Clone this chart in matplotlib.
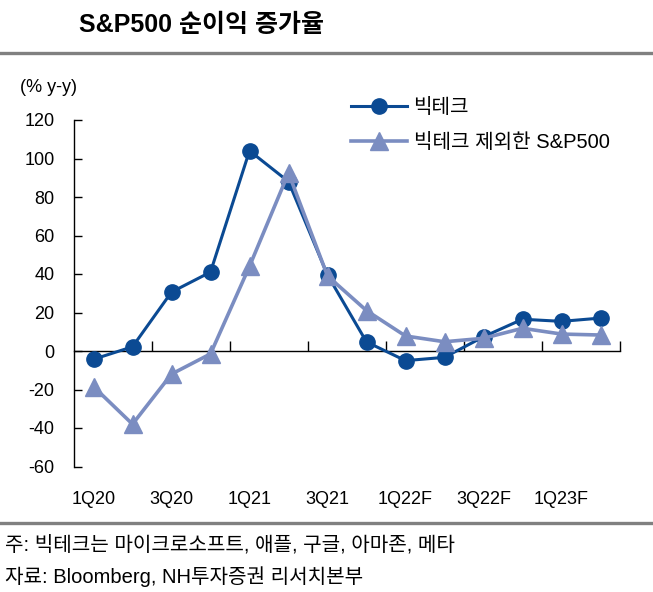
import matplotlib
matplotlib.use("Agg")
import matplotlib.pyplot as plt
from matplotlib.lines import Line2D
import numpy as np

plt.rcParams['font.family'] = ['Liberation Sans', 'Noto Sans CJK KR']
plt.rcParams['axes.unicode_minus'] = False

# Data
quarters = ['1Q20', '2Q20', '3Q20', '4Q20', '1Q21', '2Q21', '3Q21', '4Q21',
            '1Q22F', '2Q22F', '3Q22F', '4Q22F', '1Q23F', '2Q23F']
bigtech = [-4.3, 2.2, 30.6, 41.0, 104.0, 88.0, 39.5, 4.7, -5.0, -3.3, 7.4, 16.5, 15.4, 17.1]
sp500_ex = [-18.5, -38.0, -12.0, -1.5, 44.0, 92.5, 39.0, 21.0, 7.8, 4.8, 6.6, 11.8, 8.8, 8.3]
yticks = [-60, -40, -20, 0, 20, 40, 60, 80, 100, 120]

dark = '#0B4A93'
light = '#7B8DC1'
grey = '#808080'

fig = plt.figure(figsize=(6.53, 5.92), dpi=100)
ax = fig.add_axes([74/653, 1 - 466.5/592, 546/653, 346.5/592])

x = np.arange(len(quarters))
ax.plot(x, bigtech, color=dark, lw=2.2, marker='o', ms=11, label='빅테크', zorder=3)
ax.plot(x, sp500_ex, color=light, lw=2.6, marker='^', ms=12.5, label='빅테크 제외한 S&P500', zorder=4)

ax.set_xlim(-0.5, len(quarters) - 0.5)
ax.set_ylim(-60, 120)
ax.set_yticks(yticks)
ax.tick_params(axis='y', direction='in', length=6, width=1, labelsize=13, pad=14)
for s in ['top', 'right']:
    ax.spines[s].set_visible(False)
ax.spines['left'].set_linewidth(1)

# zero line with tick marks every two quarters
ax.spines['bottom'].set_position(('data', 0))
ax.spines['bottom'].set_linewidth(1)
ax.set_xticks(np.arange(1.5, len(quarters), 2))
ax.tick_params(axis='x', direction='in', length=7, width=1, labelbottom=False)

# category labels under the plot
sec = ax.secondary_xaxis(location=0.0)
sec.set_xticks(x[::2])
sec.set_xticklabels(quarters[::2])
sec.tick_params(length=0, pad=18, labelsize=13)
sec.spines['bottom'].set_visible(False)

handles = [Line2D([], [], color=dark, lw=2.2, marker='o', ms=11),
           Line2D([], [], color=light, lw=2.6, marker='^', ms=12.5)]
fig.legend(handles, ['빅테크', '빅테크 제외한 S&P500'], loc='upper left',
           bbox_to_anchor=(341/653, 1 - 88/592), frameon=False, fontsize=14.5,
           handlelength=2.8, handletextpad=0.3, labelspacing=0.8, borderpad=0)

fig.text(79/653, 1 - 25/592, 'S&P500 순이익 증가율', fontsize=18, fontweight='bold', va='center')
fig.add_artist(Line2D([0, 1], [1 - 53/592, 1 - 53/592], transform=fig.transFigure, color=grey, lw=2.4))
fig.text(20/653, 1 - 88/592, '(% y-y)', fontsize=13, va='center')

fig.add_artist(Line2D([0, 1], [1 - 523/592, 1 - 523/592], transform=fig.transFigure, color=grey, lw=2.4))
fig.text(5/653, 1 - 545/592, '주: 빅테크는 마이크로소프트, 애플, 구글, 아마존, 메타', fontsize=14.5, va='center')
fig.text(5/653, 1 - 577/592, '자료: Bloomberg, NH투자증권 리서치본부', fontsize=14.5, va='center')

fig.savefig('out.png', dpi=100)
